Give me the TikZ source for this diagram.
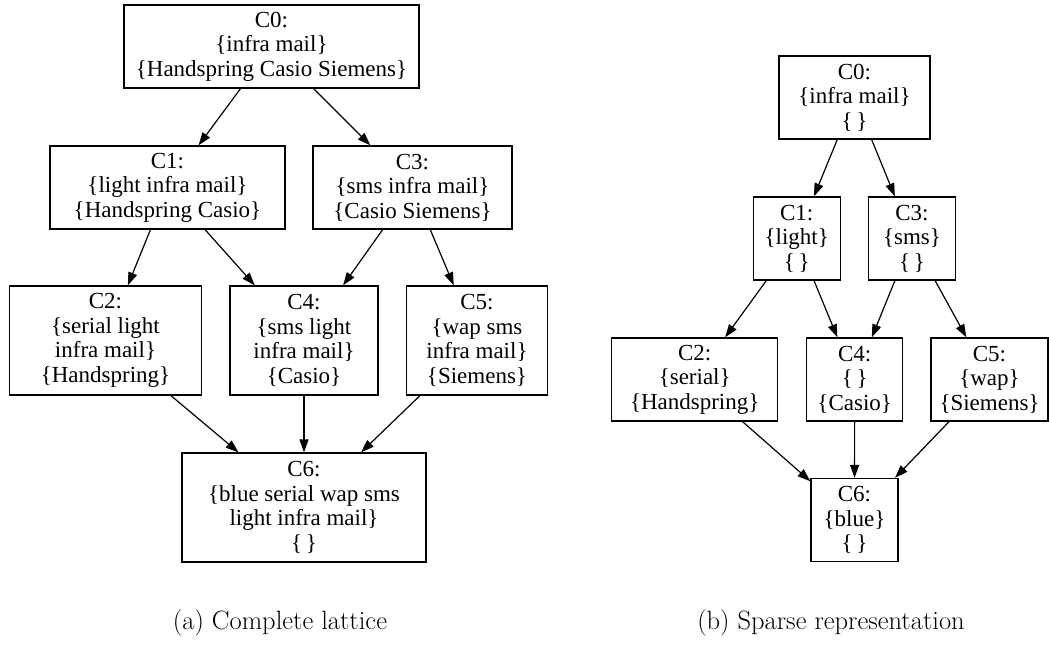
\documentclass[tikz,border=0pt]{standalone}
\usepackage{fontspec}
\newfontfamily\gvfont{Liberation Serif}
\usetikzlibrary{arrows.meta}

\begin{document}
\begin{tikzpicture}[x=1pt, y=-1pt]
\tikzstyle{concept}=[rectangle, draw=black, line width=1.3pt, inner sep=0pt, align=center,
  font=\gvfont\fontsize{23}{24.5}\selectfont]
\tikzstyle{parent}=[{Triangle[length=13pt, width=9pt]}-, line width=1.2pt]
\tikzstyle{caption}=[font=\fontsize{26.5}{31}\selectfont, anchor=base]
%
\useasboundingbox (0,0) rectangle (1049,646);
%
% (a) complete lattice
\begin{scope}
\node [concept, minimum width=295, minimum height=83] (c0) at (271.5,46.5)
	{C0:\\\{infra mail\}\\\{Handspring Casio Siemens\}};
\node [concept, minimum width=235, minimum height=83] (c1) at (167.5,187.5)
	{C1:\\\{light infra mail\}\\\{Handspring Casio\}}
	edge [parent] (c0);
\node [concept, minimum width=199, minimum height=83] (c3) at (412.5,187.5)
	{C3:\\\{sms infra mail\}\\\{Casio Siemens\}}
	edge [parent] (c0);
\node [concept, minimum width=192, minimum height=109] (c2) at (105.5,340.5)
	{C2:\\\{serial light\\infra mail\}\\\{Handspring\}}
	edge [parent] (c1);
\node [concept, minimum width=148, minimum height=109] (c4) at (304,340.5)
	{C4:\\\{sms light\\infra mail\}\\\{Casio\}}
	edge [parent] (c1)
	edge [parent] (c3);
\node [concept, minimum width=141, minimum height=109] (c5) at (477,340.5)
	{C5:\\\{wap sms\\infra mail\}\\\{Siemens\}}
	edge [parent] (c3);
\node [concept, minimum width=244, minimum height=109] (c6) at (304,507.5)
	{C6:\\\{blue serial wap sms\\light infra mail\}\\\{\,\}}
	edge [parent] (c2)
	edge [parent] (c4)
	edge [parent] (c5);
\node [caption] (capa) at (280,629) {(a) Complete lattice};
\end{scope}
%
% (b) sparse representation
\begin{scope}
\node [concept, minimum width=151, minimum height=83] (s0) at (854.5,97.5)
	{C0:\\\{infra mail\}\\\{\,\}};
\node [concept, minimum width=87, minimum height=83] (s1) at (796.7,238.5)
	{C1:\\\{light\}\\\{\,\}}
	edge [parent] (s0);
\node [concept, minimum width=87, minimum height=83] (s3) at (912,238.5)
	{C3:\\\{sms\}\\\{\,\}}
	edge [parent] (s0);
\node [concept, minimum width=166, minimum height=83] (s2) at (694.7,379.5)
	{C2:\\\{serial\}\\\{Handspring\}}
	edge [parent] (s1);
\node [concept, minimum width=96, minimum height=83] (s4) at (854.7,379.5)
	{C4:\\\{\,\}\\\{Casio\}}
	edge [parent] (s1)
	edge [parent] (s3);
\node [concept, minimum width=117, minimum height=83] (s5) at (989.5,379.5)
	{C5:\\\{wap\}\\\{Siemens\}}
	edge [parent] (s3);
\node [concept, minimum width=87, minimum height=83] (s6) at (854.5,520)
	{C6:\\\{blue\}\\\{\,\}}
	edge [parent] (s2)
	edge [parent] (s4)
	edge [parent] (s5);
\node [caption] (capb) at (831,629) {(b) Sparse representation};
\end{scope}
%
\end{tikzpicture}
\end{document}
